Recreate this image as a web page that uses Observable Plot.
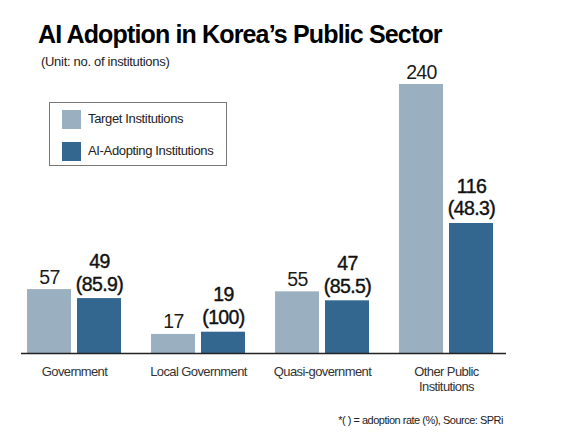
<!DOCTYPE html>
<html><head><meta charset="utf-8">
<script src="https://cdn.jsdelivr.net/npm/d3@7"></script>
<script src="https://cdn.jsdelivr.net/npm/@observablehq/plot@0.6"></script>
<style>
body{margin:0;background:#fff;font-family:"Liberation Sans",Arial,sans-serif;}
#wrap{position:relative;width:580px;height:440px;overflow:hidden;background:#fff}
#chart{position:absolute;left:0;top:50px}
.abs{position:absolute;white-space:nowrap}
#title{left:38px;top:22px;font-size:25px;line-height:25px;font-weight:bold;letter-spacing:-0.85px;color:#000}
#subtitle{left:41px;top:55px;font-size:13px;line-height:13px;letter-spacing:-0.3px;color:#222}
#legend{left:49px;top:102px;width:176px;height:62px;border:1px solid #777;background:#fff}
.sw{position:absolute;left:12px;width:19px;height:19px}
.lt{position:absolute;left:38px;font-size:13px;line-height:13px;letter-spacing:-0.35px;color:#222}
#caption{right:77px;top:415px;font-size:11px;line-height:11px;letter-spacing:-0.5px;color:#222}
</style></head><body>
<div id="wrap"><div id="chart"></div></div>
<script>
const categories = ["Government", "Local Government", "Quasi-government", "Other Public Institutions"];
const categoryLabels = ["Government", "Local Government", "Quasi-government", "Other Public\nInstitutions"];
const targetValues = [57, 17, 55, 240];
const adoptingValues = [49, 19, 47, 116];
const adoptionRates = ["85.9", "100", "85.5", "48.3"];
const seriesNames = ["Target Institutions", "AI-Adopting Institutions"];
const seriesColors = ["#9aafc0", "#33678f"];
const titleText = "AI Adoption in Korea\u2019s Public Sector";
const subtitleText = "(Unit: no. of institutions)";
const captionText = "*( ) = adoption rate (%), Source: SPRi";

const rows = categories.map((c, i) => ({
  category: c,
  label: categoryLabels[i],
  target: targetValues[i],
  adopting: adoptingValues[i],
  rate: adoptionRates[i]
}));

const chart = Plot.plot({
  width: 580,
  height: 350,
  marginLeft: 21,
  marginRight: 82,
  marginTop: 34,
  marginBottom: 47,
  x: {domain: categories, paddingInner: 0.244, paddingOuter: 0.041, axis: null},
  y: {domain: [0, 240], axis: null},
  style: {fontFamily: "'Liberation Sans', Arial, sans-serif", background: "transparent", overflow: "visible"},
  marks: [
    Plot.barY(rows, {x: "category", y: "target", fill: seriesColors[0], insetRight: 50}),
    Plot.barY(rows, {x: "category", y: "adopting", fill: seriesColors[1], insetLeft: 50}),
    Plot.ruleY([0], {stroke: "#222", strokeWidth: 1.3, insetRight: -8}),
    Plot.text(rows, {x: "category", y: "target", text: d => String(d.target), dx: -25, dy: -6,
      lineAnchor: "bottom", fontSize: 19.5, fill: "#1a1a1a"}),
    Plot.text(rows, {x: "category", y: "adopting", text: d => `${d.adopting}\n(${d.rate})`, dx: 25, dy: -8,
      lineAnchor: "bottom", lineHeight: 1.17, fontSize: 19.5, fill: "#111", stroke: "#111", strokeWidth: 0.4}),
    Plot.text(rows, {x: "category", text: "label", frameAnchor: "bottom", dy: 12,
      lineAnchor: "top", lineHeight: 1.15, fontSize: 13, fill: "#333"})
  ]
});
const tg = chart.querySelectorAll('g[aria-label="text"]');
if (tg[0]) tg[0].style.letterSpacing = "-0.6px";
if (tg[1]) tg[1].style.letterSpacing = "-0.6px";
if (tg[2]) tg[2].style.letterSpacing = "-0.6px";
document.getElementById("chart").appendChild(chart);

const wrap = document.getElementById("wrap");
function addDiv(id, text) {
  const d = document.createElement("div");
  d.className = "abs"; d.id = id; d.textContent = text;
  wrap.appendChild(d); return d;
}
addDiv("title", titleText);
addDiv("subtitle", subtitleText);
addDiv("caption", captionText);
const legend = addDiv("legend", "");
seriesNames.forEach((name, i) => {
  const sw = document.createElement("div");
  sw.className = "sw"; sw.style.top = (7 + i * 32) + "px"; sw.style.background = seriesColors[i];
  legend.appendChild(sw);
  const lt = document.createElement("div");
  lt.className = "lt"; lt.style.top = (9 + i * 32) + "px"; lt.textContent = name;
  legend.appendChild(lt);
});
</script>
</body></html>
